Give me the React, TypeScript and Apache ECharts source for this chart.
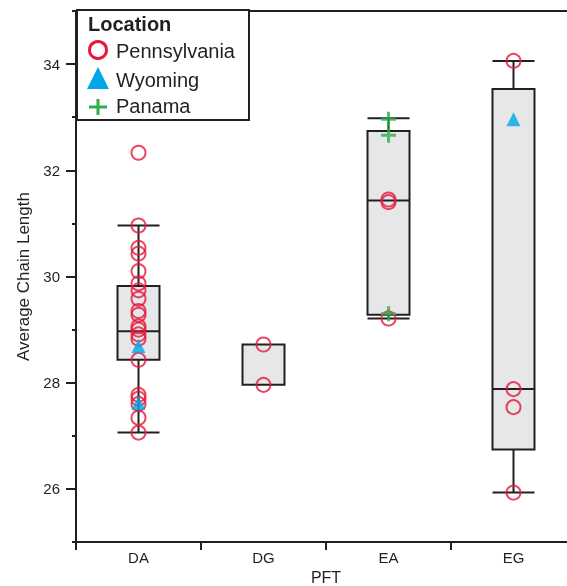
import React, { useEffect, useRef } from "react";
import * as echarts from "echarts";

const categories = ["DA", "DG", "EA", "EG"];

// [min, Q1, median, Q3, max]
const boxStats = [
  [27.06, 28.43, 28.97, 29.82, 30.96],
  [27.96, 27.96, 28.72, 28.72, 28.72],
  [29.21, 29.28, 31.43, 32.74, 32.98],
  [25.93, 26.74, 27.88, 33.53, 34.06],
];

const pennsylvaniaDA = [32.33, 30.96, 30.54, 30.43, 30.1, 29.87, 29.74, 29.58, 29.35, 29.28, 29.06, 29.0, 28.91, 28.83, 28.43, 27.77, 27.7, 27.6, 27.34, 27.06];
const pennsylvaniaDG = [28.72, 27.96];
const pennsylvaniaEA = [31.45, 31.4, 29.21];
const pennsylvaniaEG = [34.06, 27.88, 27.54, 25.93];

const wyomingDA = [28.69, 27.62];
const wyomingEG = [32.96];

const panamaEA = [32.96, 32.66, 29.3];

const majorTicks = [26, 28, 30, 32, 34];
const minorTicks = [25, 27, 29, 31, 33, 35];

const DARK = "#231f20";
const RED = "#e6193c";
const BLUE = "#00a6e6";
const GREEN = "#2fae4a";
const FONT = "Liberation Sans, Arial, sans-serif";

function toPoints(cat: string, vals: number[]) {
  const i = categories.indexOf(cat);
  return vals.map((v) => [i, v]);
}

export default function App() {
  const ref = useRef<HTMLDivElement>(null);
  useEffect(() => {
    if (!ref.current) return;
    const chart = echarts.init(ref.current, undefined, { renderer: "svg" });
    const gridGeom = { left: 76, top: 11, width: 500, height: 531, outerBoundsMode: "none", containLabel: false };
    const penn = [
      ...toPoints("DA", pennsylvaniaDA),
      ...toPoints("DG", pennsylvaniaDG),
      ...toPoints("EA", pennsylvaniaEA),
      ...toPoints("EG", pennsylvaniaEG),
    ];
    const wyo = [...toPoints("DA", wyomingDA), ...toPoints("EG", wyomingEG)];
    const pan = [...toPoints("EA", panamaEA)];
    chart.setOption({
      animation: false,
      textStyle: { fontFamily: FONT },
      grid: [
        { ...gridGeom, show: true, borderColor: DARK, borderWidth: 2, backgroundColor: "transparent" },
        { ...gridGeom, show: false },
      ],
      xAxis: [
        {
          type: "category",
          gridIndex: 0,
          data: categories,
          boundaryGap: true,
          axisLine: { show: true, lineStyle: { color: DARK, width: 2 } },
          axisTick: { show: true, length: 8, lineStyle: { color: DARK, width: 2 } },
          axisLabel: { color: DARK, fontSize: 15, margin: 8, fontFamily: FONT },
          splitLine: { show: false },
          name: "PFT",
          nameLocation: "middle",
          nameGap: 20,
          nameTextStyle: { color: DARK, fontSize: 16, lineHeight: 16, fontFamily: FONT },
        },
        {
          type: "category",
          gridIndex: 1,
          data: categories,
          show: false,
        },
      ],
      yAxis: [
        {
          type: "value",
          gridIndex: 0,
          min: 25,
          max: 35,
          axisLine: { show: true, lineStyle: { color: DARK, width: 2 } },
          axisTick: { show: true, customValues: majorTicks, length: 10, lineStyle: { color: DARK, width: 2 } },
          axisLabel: { customValues: majorTicks, color: DARK, fontSize: 15, margin: 16, fontFamily: FONT },
          splitLine: { show: false },
          name: "Average Chain Length",
          nameLocation: "middle",
          nameGap: 41,
          nameTextStyle: { color: DARK, fontSize: 17, fontFamily: FONT },
        },
        {
          type: "value",
          gridIndex: 1,
          min: 25,
          max: 35,
          axisLine: { show: false },
          axisTick: { show: true, customValues: minorTicks, length: 4, lineStyle: { color: DARK, width: 2 } },
          axisLabel: { show: false },
          splitLine: { show: false },
        },
      ],
      series: [
        {
          type: "boxplot",
          xAxisIndex: 0,
          yAxisIndex: 0,
          data: boxStats,
          boxWidth: [42, 42],
          itemStyle: { color: "#e6e7e8", borderColor: DARK, borderWidth: 2 },
          emphasis: { disabled: true },
          silent: true,
        },
        {
          name: "Pennsylvania",
          type: "scatter",
          data: penn,
          symbol: "circle",
          symbolSize: 14,
          itemStyle: { color: "transparent", borderColor: RED, borderWidth: 2 },
          silent: true,
          z: 3,
        },
        {
          name: "Wyoming",
          type: "scatter",
          data: wyo,
          symbol: "triangle",
          symbolSize: 14,
          itemStyle: { color: BLUE },
          silent: true,
          z: 4,
        },
        {
          name: "Panama",
          type: "scatter",
          data: pan,
          symbol: "path://M6,0h3v6h6v3h-6v6h-3v-6h-6v-3h6z",
          symbolSize: 15,
          itemStyle: { color: GREEN },
          silent: true,
          z: 5,
        },
      ],
      graphic: [
        {
          type: "rect",
          z: 100,
          shape: { x: 77, y: 10, width: 172, height: 110 },
          style: { fill: "#ffffff", stroke: DARK, lineWidth: 2 },
        },
        {
          type: "text",
          z: 101,
          x: 88,
          y: 24,
          style: { text: "Location", fontSize: 20, fontWeight: "bold", fontFamily: FONT, fill: DARK, align: "left", verticalAlign: "middle" },
        },
        {
          type: "circle",
          z: 101,
          shape: { cx: 98, cy: 50, r: 8.5 },
          style: { fill: "none", stroke: RED, lineWidth: 3 },
        },
        {
          type: "text",
          z: 101,
          x: 116,
          y: 51,
          style: { text: "Pennsylvania", fontSize: 20, fontFamily: FONT, fill: DARK, align: "left", verticalAlign: "middle" },
        },
        {
          type: "polygon",
          z: 101,
          shape: { points: [[98, 67], [87, 89], [109, 89]] },
          style: { fill: BLUE },
        },
        {
          type: "text",
          z: 101,
          x: 116,
          y: 80,
          style: { text: "Wyoming", fontSize: 20, fontFamily: FONT, fill: DARK, align: "left", verticalAlign: "middle" },
        },
        {
          type: "rect",
          z: 101,
          shape: { x: 89, y: 105.5, width: 18, height: 3 },
          style: { fill: GREEN },
        },
        {
          type: "rect",
          z: 101,
          shape: { x: 96.5, y: 99, width: 3, height: 16 },
          style: { fill: GREEN },
        },
        {
          type: "text",
          z: 101,
          x: 116,
          y: 106,
          style: { text: "Panama", fontSize: 20, fontFamily: FONT, fill: DARK, align: "left", verticalAlign: "middle" },
        },
      ],
    });
    return () => chart.dispose();
  }, []);
  return <div ref={ref} style={{ position: "fixed", left: 0, top: 0, width: 567, height: 586 }} />;
}
